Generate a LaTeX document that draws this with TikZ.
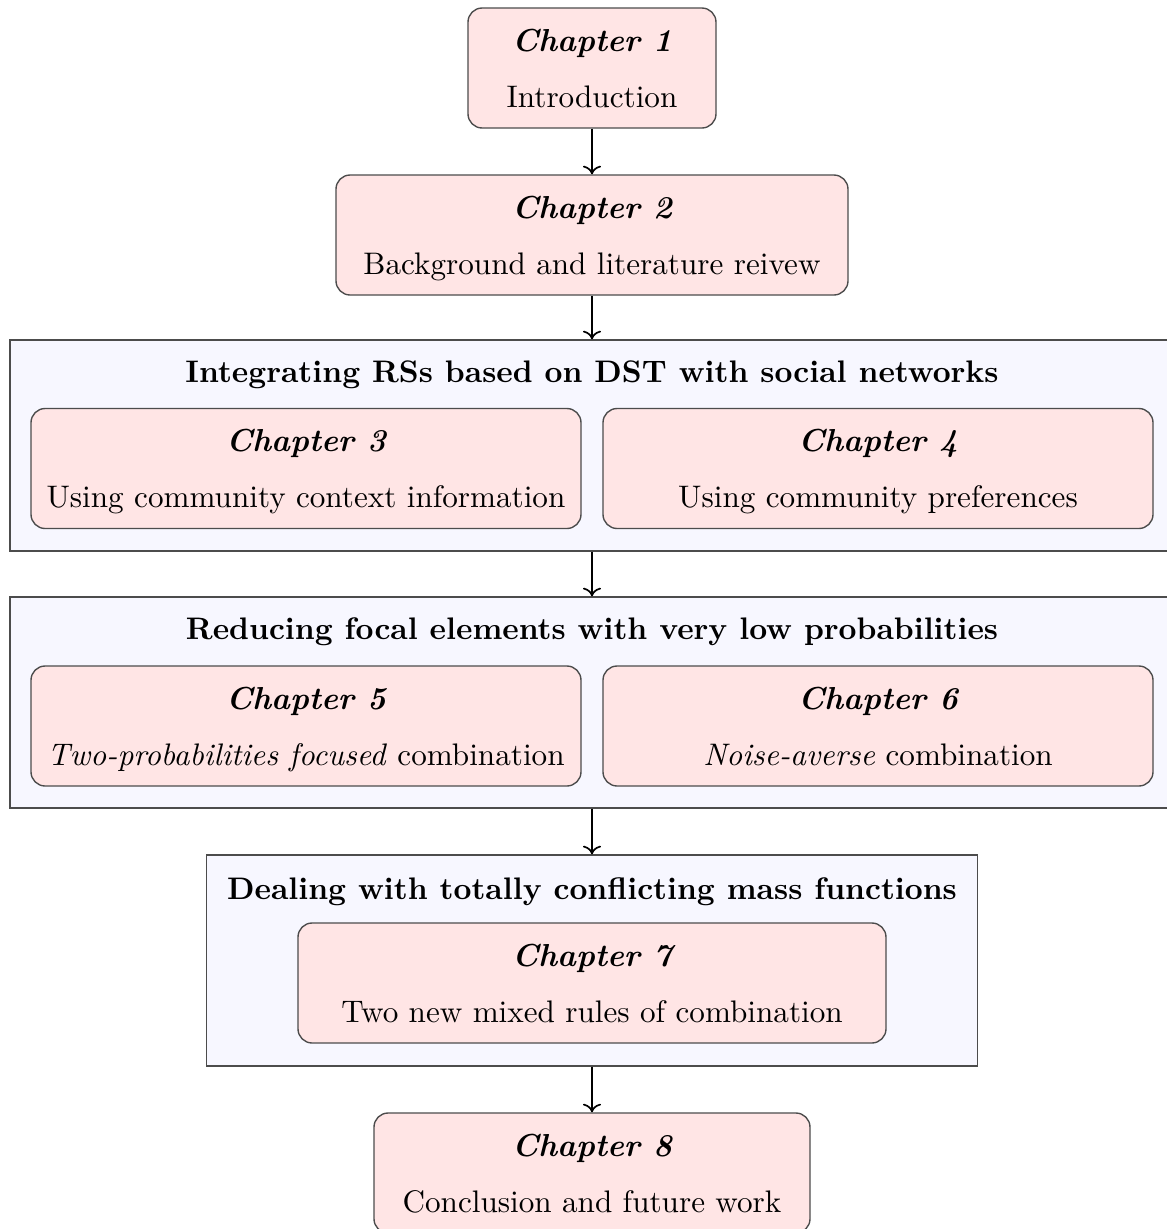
\documentclass[tikz,border=0pt]{standalone}
\usetikzlibrary{arrows.meta}
% one drawing unit = 0.3257pt
\newcommand\pxu{0.3257pt}
\newcommand\chapbox[5]{% name, centre, width, heading, subtitle
  \node[chap, minimum width=#3*\pxu] (#1) at #2 {};
  \node[chead] (#1-h) at ([yshift=-44*\pxu]#1.north) {#4};
  \node[csub] (#1-s) at ([yshift=-100*\pxu]#1.north) {#5};
}
\begin{document}
\begin{tikzpicture}[x=0.3257pt, y=-0.3257pt,
  chap/.style={draw=black!70, fill=red!10, rounded corners=4.6pt,
    inner sep=0pt, line width=0.45pt, minimum height=120*\pxu},
  chead/.style={anchor=base, inner sep=0pt,
    font=\fontsize{10.35pt}{12pt}\selectfont\bfseries\itshape},
  csub/.style={anchor=base, inner sep=0pt,
    font=\fontsize{10.15pt}{12pt}\selectfont},
  grp/.style={draw=black!70, fill=blue!3, inner sep=0pt, line width=0.45pt,
    minimum height=211*\pxu},
  gtitle/.style={anchor=base, inner sep=0pt,
    font=\fontsize{10.15pt}{12pt}\selectfont\bfseries},
  flow/.style={->, line width=0.55pt, black}]
\useasboundingbox (0,0) rectangle (1167,1229);
\clip (0,0) rectangle (1167,1229);

% chapter 1 and 2
\chapbox{c1}{(592,68)}{248}{Chapter 1}{Introduction}
\chapbox{c2}{(592,235)}{512}{Chapter 2}{Background and literature reivew}

% first group: chapters 3 and 4
\node[grp, minimum width=1164*\pxu] (g1) at (592,445.5) {};
\node[gtitle] (g1-t) at ([yshift=-43*\pxu]g1.north) {Integrating RSs based on DST with social networks};
\chapbox{c3}{(306,468.5)}{550}{Chapter 3}{Using community context information}
\chapbox{c4}{(878,468.5)}{550}{Chapter 4}{Using community preferences}

% second group: chapters 5 and 6
\node[grp, minimum width=1164*\pxu] (g2) at (592,702.5) {};
\node[gtitle] (g2-t) at ([yshift=-43*\pxu]g2.north) {Reducing focal elements with very low probabilities};
\chapbox{c5}{(306,726)}{550}{Chapter 5}{\textit{Two-probabilities focused} combination}
\chapbox{c6}{(878,726)}{550}{Chapter 6}{\textit{Noise-averse} combination}

% third group: chapter 7
\node[grp, minimum width=771*\pxu] (g3) at (592,960.5) {};
\node[gtitle] (g3-t) at ([yshift=-45*\pxu]g3.north) {Dealing with totally conflicting mass functions};
\chapbox{c7}{(592,983)}{588}{Chapter 7}{Two new mixed rules of combination}

% chapter 8
\chapbox{c8}{(592,1173)}{436}{Chapter 8}{Conclusion and future work}

% reading order
\draw[flow] (c1.south) -- (c2.north);
\draw[flow] (c2.south) -- (g1.north);
\draw[flow] (g1.south) -- (g2.north);
\draw[flow] (g2.south) -- (g3.north);
\draw[flow] (g3.south) -- (c8.north);
\end{tikzpicture}
\end{document}
